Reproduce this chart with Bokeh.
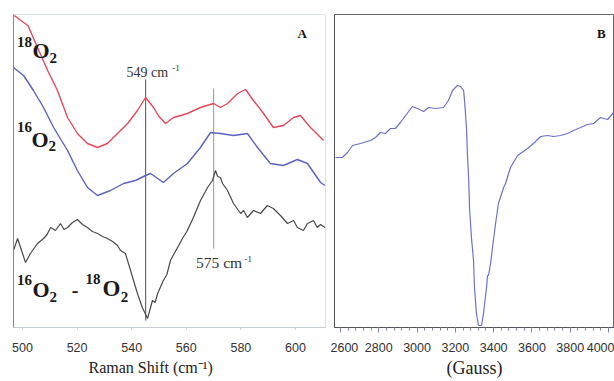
from bokeh.plotting import figure
from bokeh.layouts import row
from bokeh.models import Range1d, FixedTicker, Label, Title
from bokeh.embed import file_html
from bokeh.resources import INLINE

# ---------------- Panel A : Raman spectra (arbitrary intensity units) ----------------
o18_x = [497, 500.4, 502, 505.5, 509.2, 512.8, 516.5, 520.1, 523.8, 527.5, 531.1, 534.8,
         538.5, 542.1, 545.1, 548, 550, 552.4, 555.3, 558, 560.4, 565.2, 570, 572.5, 575.1,
         578.8, 581.7, 584.6, 588.3, 591.9, 595.6, 599.3, 601.8, 605.5, 610.3]
o18_y = [311, 304, 301, 279, 256, 236, 209, 193, 183, 179, 183, 193,
         203, 216, 229, 219, 210, 203, 209, 211, 213, 219, 223, 219, 223,
         233, 237, 226, 213, 199, 201, 209, 211, 199, 186]

o16_x = [496.7, 500.4, 504, 507.7, 511.4, 516.5, 520.1, 523.8, 527.5, 532.2, 537, 541.4,
         545.1, 546.9, 551.6, 555.3, 560.4, 565.2, 568.9, 572.5, 577.3, 582.4, 586.1,
         590.8, 595.6, 600.7, 604.4, 609.2, 610.8]
o16_y = [259, 251, 236, 219, 199, 176, 156, 139, 131, 136, 143, 146,
         151, 153, 144, 153, 163, 179, 194, 193, 191, 193, 179,
         163, 161, 167, 163, 144, 141]

diff_x = [496.7, 498.2, 499.3, 501.1, 502.9, 505.5, 507.7, 509.0, 510.3, 512.1, 513.9, 515.2,
          516.5, 518.3, 520.1, 522.0, 523.8, 525.6, 527.5, 529.3, 531.1, 533.0, 534.8, 535.9,
          537.7, 539.6, 542.1, 543.9, 545.8, 547.6, 548.6, 549.5, 551.6, 552.9, 554.2, 556.8,
          558.6, 560.4, 562.6, 565.2, 567.8, 569.6, 570.7, 571.5, 572.5, 573.3, 575.1, 577.3,
          579.9, 581.0, 582.4, 584.6, 587.2, 589.7, 591.9, 594.5, 597.1, 599.3, 600.7, 602.9,
          604.4, 606.6, 608.0, 609.2, 610.8]
diff_y = [76, 88, 79, 64, 73, 83, 88, 92, 99, 96, 103, 97,
          99, 104, 107, 102, 99, 95, 93, 90, 88, 85, 81, 76,
          73, 56, 33, 19, 8, 26, 24, 33, 46, 52, 66, 79,
          88, 96, 109, 126, 139, 146, 156, 150, 149, 143, 136, 123,
          113, 116, 109, 116, 113, 121, 118, 111, 103, 106, 99, 96,
          103, 106, 99, 102, 99]

marker_x = [545.1, 570.0]
marker_top = [247, 238]
marker_bottom = [6, 78]
marker_color = ["#6f6f6f", "#a8a8a8"]

raman_ticks = [500, 520, 540, 560, 580, 600]

# ---------------- Panel B : EPR spectrum ----------------
epr_x = [2574, 2610, 2637, 2663, 2704, 2757, 2783, 2809, 2835, 2861, 2887, 2913, 2940,
         2976, 3002, 3034, 3060, 3096, 3138, 3164, 3185, 3211, 3227, 3243, 3248, 3258,
         3263, 3270, 3274, 3284, 3295, 3300, 3310, 3321, 3337, 3347, 3363, 3368, 3373,
         3384, 3394, 3410, 3425, 3452, 3462, 3488, 3525, 3577, 3608, 3645, 3681, 3713,
         3749, 3786, 3817, 3854, 3890, 3922, 3958, 3995, 4026]
epr_y = [169, 169, 174, 181, 183, 186, 189, 194, 193, 198, 198, 204, 211,
         220, 218, 215, 219, 218, 219, 226, 236, 241, 240, 236, 226, 199,
         173, 146, 119, 89, 66, 39, 13, 1, 1, 13, 39, 51, 51,
         63, 79, 103, 123, 139, 143, 159, 171, 178, 183, 190, 191, 190,
         191, 193, 196, 199, 202, 203, 209, 207, 214]

gauss_ticks = [2600, 2800, 3000, 3200, 3400, 3600, 3800, 4000]
gauss_minor = list(range(2560, 4040, 40))

SERIF = "Liberation Serif"
SANS = "Liberation Sans"


def lab(p, x, y, text, size, bold=False, font=SERIF, color="#1a1a1a", align="left"):
    # size in px; the label box sits slightly low, so lift it by ~0.38 em
    p.add_layout(Label(x=x, y=y + 0.38 * size, text=text, text_font=font,
                       text_font_size=f"{size}px",
                       text_font_style="bold" if bold else "normal", text_color=color,
                       text_align=align, text_baseline="alphabetic"))


def base_fig(width, x_range, left, right):
    p = figure(width=width, height=381, output_backend="svg", toolbar_location=None,
               x_range=x_range, y_range=Range1d(-1, 312),
               min_border_left=left, min_border_right=right,
               min_border_top=14, min_border_bottom=54)
    p.background_fill_color = "white"
    p.border_fill_color = "white"
    p.grid.visible = False
    p.yaxis.ticker = FixedTicker(ticks=[])
    p.yaxis.major_tick_line_color = None
    p.yaxis.minor_tick_line_color = None
    p.yaxis.major_label_standoff = 0
    p.xaxis.major_tick_in = 0
    p.xaxis.major_label_text_font = SANS
    p.xaxis.major_label_text_font_size = "12.5px"
    p.xaxis.major_label_text_color = "#333333"
    return p


def bottom_title(p, text, align, offset, size, standoff):
    p.add_layout(Title(text=text, align=align, offset=offset, standoff=standoff,
                       text_font=SERIF, text_font_size=size, text_font_style="normal",
                       text_color="#222222"), "below")


# ================= Panel A =================
pa = base_fig(330, Range1d(496.7, 611.0), 13, 5)
pa.outline_line_color = "#dbe3ea"
pa.xaxis.ticker = FixedTicker(ticks=raman_ticks)
pa.xaxis.axis_line_color = "#c4ccd4"
pa.xaxis.major_tick_line_color = "#c4ccd4"
pa.xaxis.major_tick_out = 2
pa.xaxis.minor_tick_line_color = None
pa.xaxis.major_label_standoff = 13
pa.yaxis.axis_line_color = "#8a8a8a"

pa.segment(x0=marker_x, y0=marker_bottom, x1=marker_x, y1=marker_top,
           line_color=marker_color, line_width=1.2)
pa.line(o18_x, o18_y, line_color="#e4485c", line_width=1.4)
pa.line(o16_x, o16_y, line_color="#5b62bf", line_width=1.4)
pa.line(diff_x, diff_y, line_color="#4a4a4a", line_width=1.2)

# 18O2
lab(pa, 498.0, 279, "18", 15, True)
lab(pa, 503.7, 268, "O", 22, True)
lab(pa, 509.9, 263, "2", 15, True)
# 16O2
lab(pa, 498.0, 194, "16", 15, True)
lab(pa, 503.3, 179, "O", 22, True)
lab(pa, 509.5, 175, "2", 15, True)
# 16O2 - 18O2
lab(pa, 498.0, 41, "16", 15, True)
lab(pa, 503.7, 29, "O", 22, True)
lab(pa, 509.9, 24, "2", 15, True)
lab(pa, 518.0, 29, "-", 20, True)
lab(pa, 523.1, 42, "18", 15, True)
lab(pa, 529.3, 29, "O", 23, True)
lab(pa, 536.0, 24, "2", 15, True)
# peak labels
lab(pa, 538.1, 249, "549 cm", 14, False, color="#333333")
lab(pa, 554.9, 255, "-1", 9, False, color="#333333")
lab(pa, 563.6, 58, "575 cm", 15.5, False, color="#333333")
lab(pa, 581.3, 64, "-1", 9, False, color="#333333")
# panel letter
lab(pa, 600.7, 288, "A", 13, True, color="#111111")
bottom_title(pa, "Raman Shift (cm\u207b\u00b9)", "left", 75, "16px", 5)

# ================= Panel B =================
pb = base_fig(284, Range1d(2569, 4031), 4, 0)
pb.outline_line_color = "#6a6a6a"
pb.xaxis.ticker = FixedTicker(ticks=gauss_ticks, minor_ticks=gauss_minor)
pb.xaxis.axis_line_color = "#555555"
pb.xaxis.major_tick_line_color = "#7a80d4"
pb.xaxis.minor_tick_line_color = "#7a80d4"
pb.xaxis.major_tick_out = 5
pb.xaxis.minor_tick_in = 0
pb.xaxis.minor_tick_out = 3
pb.xaxis.major_label_standoff = 10
pb.yaxis.axis_line_color = "#555555"

pb.line(epr_x, epr_y, line_color="#6c72cc", line_width=1.2)
lab(pb, 3940, 288, "B", 13, True, color="#111111")
bottom_title(pb, "(Gauss)", "center", 6, "18px", 2)

layout = row(pa, pb)
open("out.html", "w").write(file_html(layout, INLINE))
